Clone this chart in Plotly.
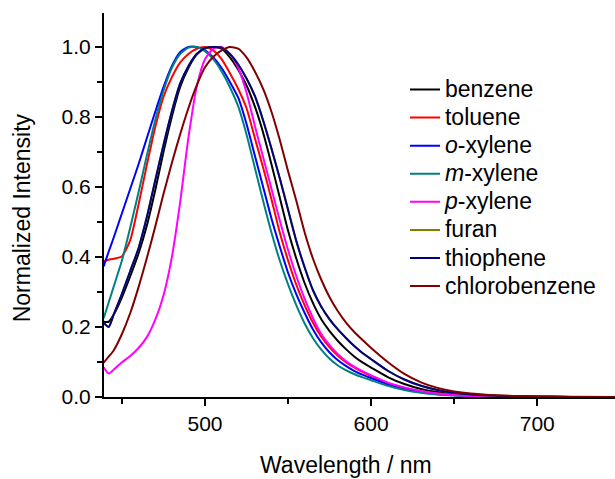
import plotly.graph_objects as go

# Emission wavelength grid (nm)
wavelength = [439, 442, 445, 450, 455, 460, 465, 470, 475, 480, 485, 490, 495, 500,
              505, 510, 515, 520, 525, 530, 535, 540, 545, 550, 555, 560, 565, 570,
              575, 580, 585, 590, 595, 600, 610, 620, 630, 640, 650, 660, 680, 700,
              720, 750]

# Normalized emission intensity per solvent
benzene = [0.215, 0.215, 0.235, 0.285, 0.345, 0.41, 0.49, 0.59, 0.70, 0.80, 0.885, 0.94,
           0.978, 0.995, 1.0, 0.995, 0.97, 0.935, 0.89, 0.83, 0.755, 0.665, 0.57, 0.475,
           0.395, 0.325, 0.268, 0.222, 0.188, 0.16, 0.136, 0.115, 0.098, 0.084, 0.057,
           0.037, 0.023, 0.014, 0.009, 0.005, 0.002, 0.001, 0.0, 0.0]
toluene = [0.388, 0.392, 0.395, 0.402, 0.448, 0.55, 0.663, 0.77, 0.857, 0.913, 0.955, 0.98,
           0.995, 1.0, 0.99, 0.965, 0.925, 0.88, 0.825, 0.74, 0.655, 0.565, 0.47, 0.39,
           0.32, 0.262, 0.212, 0.172, 0.142, 0.118, 0.099, 0.084, 0.071, 0.06, 0.04,
           0.026, 0.016, 0.01, 0.006, 0.003, 0.001, 0.0, 0.0, 0.0]
o_xylene = [0.373, 0.415, 0.455, 0.525, 0.595, 0.665, 0.74, 0.814, 0.885, 0.945, 0.985, 1.0,
            1.0, 0.99, 0.97, 0.94, 0.9, 0.855, 0.78, 0.69, 0.6, 0.51, 0.43, 0.355,
            0.293, 0.24, 0.193, 0.156, 0.127, 0.105, 0.088, 0.074, 0.063, 0.054, 0.036,
            0.023, 0.014, 0.008, 0.005, 0.003, 0.001, 0.0, 0.0, 0.0]
m_xylene = [0.225, 0.27, 0.315, 0.39, 0.484, 0.585, 0.69, 0.79, 0.875, 0.94, 0.98, 0.998,
            1.0, 0.988, 0.965, 0.93, 0.885, 0.83, 0.75, 0.655, 0.56, 0.47, 0.39, 0.322,
            0.262, 0.21, 0.168, 0.135, 0.109, 0.09, 0.076, 0.065, 0.056, 0.048, 0.032,
            0.02, 0.012, 0.007, 0.004, 0.002, 0.001, 0.0, 0.0, 0.0]
p_xylene = [0.085, 0.067, 0.078, 0.099, 0.117, 0.14, 0.171, 0.22, 0.29, 0.398, 0.555, 0.74,
            0.886, 0.965, 0.995, 1.0, 0.98, 0.94, 0.87, 0.775, 0.685, 0.595, 0.505, 0.42,
            0.345, 0.28, 0.225, 0.18, 0.148, 0.122, 0.102, 0.086, 0.073, 0.062, 0.041,
            0.027, 0.017, 0.01, 0.006, 0.003, 0.001, 0.0, 0.0, 0.0]
furan = [0.212, 0.2, 0.235, 0.295, 0.36, 0.425, 0.514, 0.618, 0.72, 0.815, 0.895, 0.945,
         0.98, 0.997, 1.0, 0.998, 0.98, 0.95, 0.91, 0.86, 0.79, 0.71, 0.625, 0.535,
         0.445, 0.37, 0.305, 0.258, 0.222, 0.193, 0.168, 0.145, 0.125, 0.108, 0.075,
         0.05, 0.032, 0.02, 0.012, 0.007, 0.003, 0.001, 0.0, 0.0]
thiophene = [0.212, 0.2, 0.235, 0.295, 0.36, 0.425, 0.514, 0.618, 0.72, 0.815, 0.895, 0.945,
             0.98, 0.997, 1.0, 0.998, 0.98, 0.95, 0.91, 0.86, 0.79, 0.71, 0.625, 0.535,
             0.445, 0.37, 0.305, 0.258, 0.222, 0.193, 0.168, 0.145, 0.125, 0.108, 0.075,
             0.05, 0.032, 0.02, 0.012, 0.007, 0.003, 0.001, 0.0, 0.0]
chlorobenzene = [0.098, 0.115, 0.133, 0.18, 0.24, 0.314, 0.397, 0.486, 0.58, 0.668, 0.75,
                 0.825, 0.89, 0.942, 0.972, 0.99, 1.0, 0.995, 0.97, 0.93, 0.88, 0.815,
                 0.735, 0.645, 0.56, 0.47, 0.395, 0.335, 0.285, 0.245, 0.212, 0.185, 0.162,
                 0.14, 0.1, 0.066, 0.042, 0.026, 0.016, 0.01, 0.004, 0.002, 0.001, 0.0]

series = [
    ("benzene", benzene, "#000000"),
    ("toluene", toluene, "#FF0000"),
    ("<i>o</i>-xylene", o_xylene, "#0000FF"),
    ("<i>m</i>-xylene", m_xylene, "#008080"),
    ("<i>p</i>-xylene", p_xylene, "#FF00FF"),
    ("furan", furan, "#808000"),
    ("thiophene", thiophene, "#000080"),
    ("chlorobenzene", chlorobenzene, "#800000"),
]

FONT = "Liberation Sans, Arial, Helvetica, sans-serif"

fig = go.Figure()
for name, values, color in series:
    fig.add_trace(go.Scatter(
        x=wavelength, y=values, mode="lines",
        name='<span style="font-size:23px">%s</span>' % name,
        line=dict(color=color, width=2, shape="spline", smoothing=0.6),
    ))

axis_common = dict(
    showline=True, linecolor="black", linewidth=2,
    ticks="outside", ticklen=7, tickwidth=2, tickcolor="black",
    showgrid=False, zeroline=False, mirror=False,
    tickfont=dict(family=FONT, size=21, color="black"),
)

fig.update_xaxes(
    range=[439.2, 746.8], tick0=500, dtick=100,
    minor=dict(ticks="outside", ticklen=5, tickwidth=2, tickcolor="black", dtick=50, tick0=450),
    **axis_common,
)
fig.update_yaxes(
    range=[0, 1.097], tick0=0, dtick=0.2, tickformat=".1f",
    minor=dict(ticks="outside", ticklen=5, tickwidth=2, tickcolor="black", dtick=0.1),
    **axis_common,
)

fig.add_annotation(
    text="Normalized Intensity", xref="paper", yref="paper",
    x=-0.16, y=0.466, xanchor="center", yanchor="middle", textangle=-90,
    showarrow=False, font=dict(family=FONT, size=23, color="black"),
)
fig.add_annotation(
    text="Wavelength / nm", xref="paper", yref="paper",
    x=0.473, y=-0.177, xanchor="center", yanchor="middle",
    showarrow=False, font=dict(family=FONT, size=23, color="black"),
)

fig.update_layout(
    width=615, height=479,
    margin=dict(l=104, r=0, t=13, b=82),
    paper_bgcolor="white", plot_bgcolor="white",
    showlegend=True,
    legend=dict(
        x=0.589, y=0.8505, xanchor="left", yanchor="top",
        bgcolor="rgba(0,0,0,0)", borderwidth=0,
        font=dict(family=FONT, size=19.3, color="black"),
        tracegroupgap=0,
    ),
)

fig.write_html("out.html")
